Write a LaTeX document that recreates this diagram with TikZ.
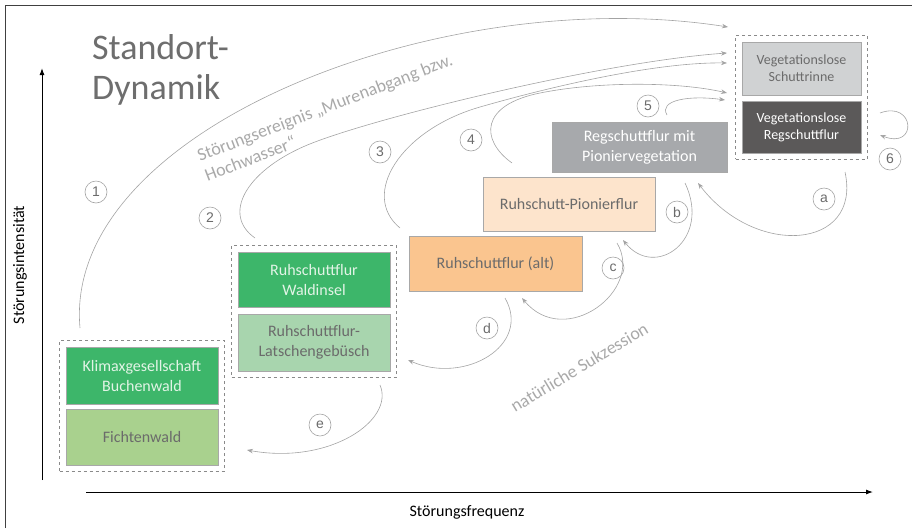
\documentclass[tikz,border=0pt]{standalone}
\usepackage{fontspec}
\setmainfont{Carlito}
\newfontfamily\numfont{Liberation Sans}
\usetikzlibrary{arrows.meta, fit}

\definecolor{framegray}{HTML}{404040}
\definecolor{txtgray}{HTML}{6B6B6B}
\definecolor{titlegray}{HTML}{6E6E6E}
\definecolor{paletext}{HTML}{A9A9A9}
\definecolor{curvegray}{HTML}{A3A3A3}
\definecolor{dashgray}{HTML}{8A8A8A}
\definecolor{boxline}{HTML}{A8A8A8}
\definecolor{schuttgray}{HTML}{D0D2D3}
\definecolor{regdark}{HTML}{5B5959}
\definecolor{piongray}{HTML}{A7A9AC}
\definecolor{peachlight}{HTML}{FDE4CC}
\definecolor{altorange}{HTML}{FAC58F}
\definecolor{greendark}{HTML}{3DB66A}
\definecolor{greenlight}{HTML}{A8D5AE}
\definecolor{fichtegreen}{HTML}{A9D18E}
\definecolor{greentext}{HTML}{E2F4E6}

\begin{document}
\begin{tikzpicture}[x=1pt, y=1pt,
  box/.style={draw=boxline, line width=0.8pt, minimum width=152pt, minimum height=55pt,
    align=center, inner sep=2pt, text=txtgray, font=\fontsize{16}{20}\selectfont},
  group/.style={draw=dashgray, dashed, line width=0.9pt, inner sep=6pt},
  num/.style={circle, draw=curvegray, line width=0.6pt, minimum size=22pt, inner sep=0pt,
    text=txtgray, font=\numfont\fontsize{14}{14}\selectfont},
  flow/.style={curvegray, line width=0.6pt, -{Stealth[length=6pt, width=4.5pt]}},
  axis/.style={line width=1pt, -{Latex[length=7pt, width=5pt]}}]

  \useasboundingbox (0,0) rectangle (912,-528);

  % Frame (left and top only)
  \draw[framegray, line width=1.2pt] (5.5,-528) -- (5.5,-5.5) -- (912,-5.5);

  % Title
  \node[anchor=north west, inner sep=0pt, align=left, text=titlegray,
    font=\fontsize{36}{40}\selectfont] (title) at (92,-34) {Standort-\\Dynamik};

  % Axes
  \coordinate (yo) at (42,-480);
  \coordinate (ytop) at (42,-68);
  \coordinate (xo) at (86,-492);
  \coordinate (xend) at (873,-492);
  \draw[axis] (yo) -- (ytop);
  \draw[axis] (xo) -- (xend);
  \node[rotate=90, font=\fontsize{16}{16}\selectfont] (ylabel) at (20,-265) {Störungsintensität};
  \node[font=\fontsize{16}{16}\selectfont] (xlabel) at (467,-512) {Störungsfrequenz};

  % Stages
  \node[box, minimum width=119pt, minimum height=53pt, fill=schuttgray,
    font=\fontsize{14}{17}\selectfont] (schuttrinne) at (801.5,-68.5) {Vegetationslose\\Schuttrinne};
  \node[box, minimum width=119pt, minimum height=52pt, fill=regdark, text=white,
    font=\fontsize{14}{17}\selectfont] (regflur) at (801.5,-127) {Vegetationslose\\Regschuttflur};
  \node[box, minimum width=175pt, minimum height=50pt, fill=piongray, text=white] (pionveg) at (639.5,-147) {Regschuttflur mit\\Pioniervegetation};
  \node[box, minimum width=172pt, minimum height=54pt, fill=peachlight] (pionflur) at (569,-204) {Ruhschutt-Pionierflur};
  \node[box, minimum width=173pt, fill=altorange] (ruhalt) at (495.5,-263.5) {Ruhschuttflur (alt)};
  \node[box, fill=greendark, text=greentext] (waldinsel) at (314,-279.5) {Ruhschuttflur\\Waldinsel};
  \node[box, minimum height=57pt, fill=greenlight] (latschen) at (314,-342.5) {Ruhschuttflur-\\Latschengebüsch};
  \node[box, minimum height=57pt, fill=greendark, text=greentext] (buchenwald) at (142,-375.5) {Klimaxgesellschaft\\Buchenwald};
  \node[box, minimum height=56pt, fill=fichtegreen] (fichtenwald) at (142,-437) {Fichtenwald};

  % Dashed groups
  \node[group, fit=(schuttrinne)(regflur)] (topgroup) {};
  \node[group, fit=(waldinsel)(latschen)] (midgroup) {};
  \node[group, fit=(buchenwald)(fichtenwald)] (lowgroup) {};

  % Numbered markers
  \node[num] (n1) at (96,-192) {1};
  \node[num] (n2) at (210,-218) {2};
  \node[num] (n3) at (380,-152) {3};
  \node[num] (n4) at (471,-140) {4};
  \node[num] (n5) at (648,-106) {5};
  \node[num] (n6) at (890,-159) {6};
  \node[num] (na) at (824,-199) {a};
  \node[num] (nb) at (677,-212) {b};
  \node[num] (nc) at (613,-268) {c};
  \node[num] (nd) at (487,-328) {d};
  \node[num] (ne) at (320,-425) {e};

  % Disturbance events 1-6
  \coordinate (s1) at (80,-328);   \coordinate (e1) at (728,-27);
  \coordinate (s2) at (255,-238);  \coordinate (e2) at (727,-53);
  \coordinate (s3) at (400,-228);  \coordinate (e3) at (727,-63);
  \coordinate (s4) at (512,-163);  \coordinate (e4) at (727,-93);
  \coordinate (s5) at (667,-115);  \coordinate (e5) at (725,-100);
  \coordinate (s6) at (880,-113);  \coordinate (e6) at (880,-135);
  \draw[flow] (s1) .. controls (62,-130) and (440,18) .. (e1);
  \draw[flow] (s2) .. controls (222,-215) and (245,-172) .. (305,-146)
    .. controls (365,-120) and (600,-62) .. (e2);
  \draw[flow] (s3) .. controls (360,-195) and (400,-130) .. (480,-107)
    .. controls (560,-84) and (660,-62) .. (e3);
  \draw[flow] (s4) .. controls (480,-140) and (480,-105) .. (540,-93)
    .. controls (600,-81) and (680,-82) .. (e4);
  \draw[flow] (s5) .. controls (658,-100) and (690,-95) .. (e5);
  \draw[flow] (s6) .. controls (915,-100) and (918,-150) .. (e6);

  % Succession a-e
  \coordinate (sa) at (845,-172);  \coordinate (ea) at (698,-183);
  \coordinate (sb) at (685,-183);  \coordinate (eb) at (623,-240);
  \coordinate (sc) at (617,-243);  \coordinate (ec) at (522,-298);
  \coordinate (sd) at (505,-298);  \coordinate (ed) at (408,-360);
  \coordinate (se) at (380,-385);  \coordinate (ee) at (247,-450);
  \draw[flow] (sa) .. controls (862,-250) and (755,-258) .. (ea);
  \draw[flow] (sb) .. controls (712,-240) and (655,-280) .. (eb);
  \draw[flow] (sc) .. controls (645,-290) and (565,-350) .. (ec);
  \draw[flow] (sd) .. controls (532,-345) and (465,-385) .. (ed);
  \draw[flow] (se) .. controls (395,-420) and (330,-465) .. (ee);

  % Rotated labels
  \node[anchor=base west, inner sep=0pt, rotate=21, text=paletext, font=\fontsize{18}{18}\selectfont]
    (event1) at (200,-162) {Störungsereignis „Murenabgang bzw.};
  \node[anchor=base west, inner sep=0pt, rotate=21, text=paletext, font=\fontsize{18}{18}\selectfont]
    (event2) at (207.5,-181.6) {Hochwasser“};
  \node[anchor=base west, inner sep=0pt, rotate=31, text=paletext, font=\fontsize{18}{18}\selectfont]
    (sukzession) at (515,-413) {natürliche Sukzession};

\end{tikzpicture}
\end{document}
